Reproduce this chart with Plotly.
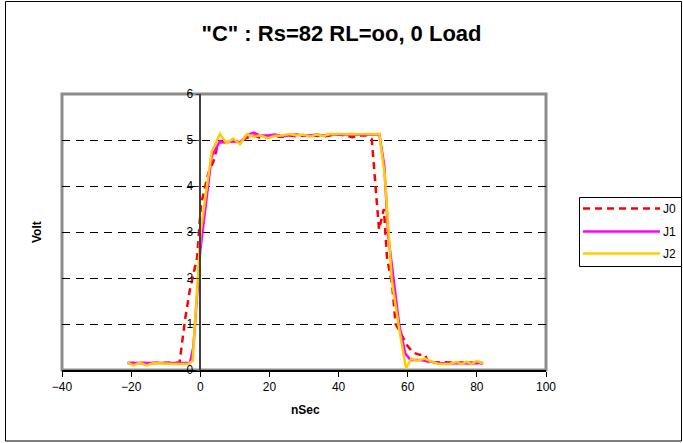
import plotly.graph_objects as go

# ---- data ----
t_j0 = [-21, -17, -13, -9, -6, -4.4, -3, -1.8, -0.9, 0.2, 1.4, 2.3, 3.9, 4.7, 5.7, 7.6, 9.5, 11.5,
        13.5, 15.4, 17.3, 19.5, 21.6, 23.7, 25.8, 27.8, 29.8, 31.7, 33.7, 35.6, 37.5, 40, 42, 44,
        46, 48, 49.6, 50.4, 51.7, 53.1, 54, 55.5, 56.5, 57.5, 59.7, 61.5, 63.5, 65, 66, 68, 72,
        76, 79, 81.8]
v_j0 = [0.15, 0.15, 0.15, 0.15, 0.16, 1.1, 1.75, 2.15, 2.45, 3.6, 4.0, 4.27, 4.55, 4.8, 4.95, 4.95,
        4.98, 4.97, 5.05, 5.1, 5.05, 5.06, 5.08, 5.07, 5.1, 5.08, 5.1, 5.09, 5.1, 5.08, 5.1, 5.12,
        5.1, 5.06, 5.1, 5.1, 5.02, 4.3, 3.05, 3.5, 2.45, 1.85, 1.0, 0.87, 0.55, 0.38, 0.33, 0.33,
        0.15, 0.17, 0.17, 0.17, 0.16, 0.14]

t_j1 = [-21, -17, -13, -9, -5, -3, -2, 0, 3.3, 5.7, 7.6, 9.5, 11.5, 13.5, 15.4, 17.3, 19.5, 21.6,
        23.7, 25.8, 27.8, 29.8, 31.7, 33.7, 35.6, 37.5, 44, 51.8, 53.2, 54.4, 57.5, 59.3, 60.8,
        63, 65, 67, 69, 72, 75, 78, 81.8]
v_j1 = [0.15, 0.15, 0.15, 0.15, 0.15, 0.15, 0.5, 2.6, 4.65, 4.97, 4.95, 4.97, 4.95, 5.1, 5.16,
        5.1, 5.1, 5.12, 5.08, 5.1, 5.12, 5.1, 5.1, 5.12, 5.1, 5.12, 5.12, 5.12, 4.45, 2.9, 1.0,
        0.36, 0.22, 0.22, 0.2, 0.17, 0.15, 0.14, 0.15, 0.14, 0.15]

t_j2 = [-21, -19.3, -17.5, -15.5, -13.5, -11.5, -9.5, -7.5, -5.5, -3.5, -2.2, 0.1, 3.3, 5.7, 7.6,
        9.5, 11.5, 13.5, 15.4, 17.3, 19.5, 21.6, 23.7, 25.8, 27.8, 29.8, 31.7, 33.7, 35.6, 37.5,
        40, 44, 48, 51.8, 53.4, 55.4, 57.5, 59.5, 61.1, 62.6, 65, 66.4, 68.9, 72, 74.2, 75.6, 77,
        78.5, 80, 81.9]
v_j2 = [0.16, 0.1, 0.16, 0.1, 0.15, 0.14, 0.13, 0.13, 0.13, 0.13, 0.2, 3.0, 4.75, 5.13, 4.93, 5.03,
        4.91, 5.13, 5.07, 5.1, 5.04, 5.09, 5.1, 5.13, 5.1, 5.12, 5.07, 5.12, 5.09, 5.13, 5.13,
        5.13, 5.13, 5.13, 4.2, 1.95, 0.9, 0.04, 0.25, 0.2, 0.25, 0.2, 0.13, 0.13, 0.18, 0.13,
        0.18, 0.13, 0.2, 0.14]

series_names = ["J0", "J1", "J2"]
series_colors = ["#FF0000", "#FF00FF", "#FFCC00"]
series_dash = ["7px,5px", "solid", "solid"]

x_ticks = [-40, -20, 0, 20, 40, 60, 80, 100]
y_ticks = [0, 1, 2, 3, 4, 5, 6]

title_text = '"C" : Rs=82 RL=oo, 0 Load'
x_title = "nSec"
y_title = "Volt"

FONT = "Arial, Liberation Sans, sans-serif"

fig = go.Figure()
for t, v, name, col, dash in zip([t_j0, t_j1, t_j2], [v_j0, v_j1, v_j2],
                                 series_names, series_colors, series_dash):
    fig.add_trace(go.Scatter(x=t, y=v, mode="lines", name=name,
                             line=dict(color=col, width=2.5, dash=dash),
                             showlegend=False))

L, R, T, B = 62, 137, 94, 73
PW, PH = 683 - L - R, 443 - T - B


def px(xp):
    return (xp - L) / PW


def py(yp):
    return (443 - B - yp) / PH


fig.update_layout(
    width=683, height=443,
    margin=dict(l=L, r=R, t=T, b=B, pad=0),
    paper_bgcolor="white", plot_bgcolor="white",
    font=dict(family=FONT, size=12, color="black"),
    title=dict(text="<b>" + title_text + "</b>", x=px(341.5), xref="paper", xanchor="center",
               y=1 - 33 / 443, yanchor="middle", yref="container",
               font=dict(family=FONT, size=22, color="black")),
    xaxis=dict(range=[-40, 100], tickvals=x_ticks, showgrid=False, zeroline=False,
               showline=True, linecolor="black", linewidth=1.5,
               ticks="outside", ticklen=5, tickcolor="black", tickwidth=1,
               tickfont=dict(size=12), fixedrange=True),
    yaxis=dict(range=[0, 6], tickvals=y_ticks, anchor="free", position=40 / 140,
               showgrid=True, gridcolor="black", gridwidth=1, griddash="8px,6px",
               zeroline=False, showline=True, linecolor="#404040", linewidth=1.5,
               ticks="outside", ticklen=4, tickcolor="#404040",
               tickfont=dict(size=12), fixedrange=True),
)

shapes = []
# plot area gray frame
shapes.append(dict(type="rect", xref="paper", yref="paper", x0=0, x1=1, y0=0, y1=1,
                   line=dict(color="#8c8c8c", width=3), layer="below"))
# outer chart border
shapes.append(dict(type="rect", xref="paper", yref="paper",
                   x0=px(5.5), x1=px(681.5), y0=py(441), y1=py(1.5),
                   line=dict(color="black", width=1)))
# legend box
shapes.append(dict(type="rect", xref="paper", yref="paper",
                   x0=px(579.5), x1=px(681.5), y0=py(266.5), y1=py(197.5),
                   line=dict(color="black", width=1), fillcolor="white"))
legend_y = [208.5, 231.5, 253.5]
annotations = []
for name, col, dash, ly in zip(series_names, series_colors, series_dash, legend_y):
    shapes.append(dict(type="line", xref="paper", yref="paper",
                       x0=px(583), x1=px(660), y0=py(ly), y1=py(ly),
                       line=dict(color=col, width=2.5, dash=dash)))
    annotations.append(dict(text=name, xref="paper", yref="paper", x=px(661), y=py(ly),
                            xanchor="left", yanchor="middle", showarrow=False,
                            font=dict(size=12)))

annotations.append(dict(text="<b>" + x_title + "</b>", xref="paper", yref="paper",
                        x=px(305), y=py(410), xanchor="center", yanchor="middle",
                        showarrow=False, font=dict(size=12)))
annotations.append(dict(text="<b>" + y_title + "</b>", xref="paper", yref="paper",
                        x=px(37), y=py(232), xanchor="center", yanchor="middle",
                        showarrow=False, textangle=-90, font=dict(size=12)))

fig.update_layout(shapes=shapes, annotations=annotations)
fig.write_html("out.html", config={"displayModeBar": False})
